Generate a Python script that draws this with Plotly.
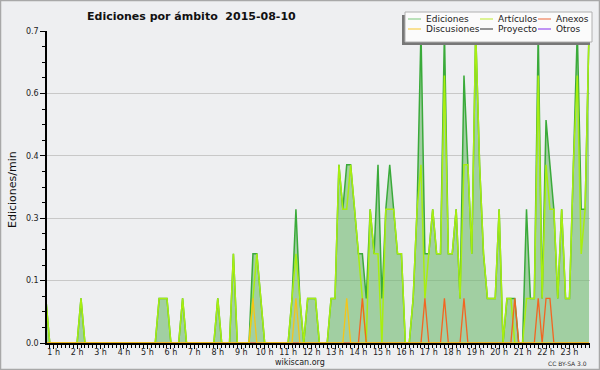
import plotly.graph_objects as go

# 10-minute bin index of the day (bin n covers n*10 min)
bins = list(range(4, 144))

# values in edits/min, grouped by hour (first row: bins 4-5)
ediciones = [
    0.1, 0,
    0, 0, 0, 0, 0, 0,
    0, 0.1, 0, 0, 0, 0,
    0, 0, 0, 0, 0, 0,
    0, 0, 0, 0, 0, 0,
    0, 0, 0, 0.1, 0.1, 0.1,
    0, 0, 0, 0.1, 0, 0,
    0, 0, 0, 0, 0, 0,
    0.1, 0, 0, 0, 0.2, 0,
    0, 0, 0, 0.2, 0.2, 0.1,
    0, 0, 0, 0, 0, 0,
    0, 0.1, 0.3, 0.1, 0, 0.1,
    0.1, 0.1, 0, 0, 0, 0.1,
    0.1, 0.4, 0.3, 0.4, 0.4, 0.3,
    0.2, 0.2, 0.1, 0.3, 0.2, 0.4,
    0.1, 0.3, 0.4, 0.3, 0.2, 0.2,
    0, 0, 0.1, 0.3, 0.7, 0.2,
    0.2, 0.3, 0.2, 0.2, 0.7, 0.2,
    0.2, 0.3, 0.1, 0.6, 0.4, 0.2,
    0.7, 0.4, 0.2, 0.1, 0.1, 0.1,
    0.3, 0, 0.1, 0.1, 0.1, 0,
    0, 0.3, 0.1, 0.1, 0.7, 0.1,
    0.5, 0.4, 0.3, 0.1, 0.3, 0.1,
    0.1, 0.4, 0.7, 0.3, 0.3, 0.7,
]

articulos = [
    0.1, 0,
    0, 0, 0, 0, 0, 0,
    0, 0.1, 0, 0, 0, 0,
    0, 0, 0, 0, 0, 0,
    0, 0, 0, 0, 0, 0,
    0, 0, 0, 0.1, 0.1, 0.1,
    0, 0, 0, 0.1, 0, 0,
    0, 0, 0, 0, 0, 0,
    0.1, 0, 0, 0, 0.2, 0,
    0, 0, 0, 0.1, 0.2, 0.1,
    0, 0, 0, 0, 0, 0,
    0, 0.1, 0.2, 0.1, 0, 0.1,
    0.1, 0.1, 0, 0, 0, 0.1,
    0.1, 0.4, 0.3, 0.3, 0.4, 0.3,
    0.2, 0.1, 0, 0.3, 0.2, 0.2,
    0, 0.3, 0.3, 0.3, 0.2, 0.2,
    0, 0, 0.1, 0.3, 0.4, 0.1,
    0.2, 0.3, 0.2, 0.2, 0.6, 0.2,
    0.2, 0.3, 0.1, 0.4, 0.4, 0.2,
    0.7, 0.4, 0.2, 0.1, 0.1, 0.1,
    0.3, 0, 0.1, 0.1, 0, 0,
    0, 0.1, 0.1, 0.1, 0.6, 0.1,
    0.4, 0.3, 0.3, 0.1, 0.3, 0.1,
    0.1, 0.4, 0.6, 0.2, 0.3, 0.7,
]

anexos = [
    0, 0,
    0, 0, 0, 0, 0, 0,
    0, 0, 0, 0, 0, 0,
    0, 0, 0, 0, 0, 0,
    0, 0, 0, 0, 0, 0,
    0, 0, 0, 0, 0, 0,
    0, 0, 0, 0, 0, 0,
    0, 0, 0, 0, 0, 0,
    0, 0, 0, 0, 0, 0,
    0, 0, 0, 0, 0, 0,
    0, 0, 0, 0, 0, 0,
    0, 0, 0, 0, 0, 0,
    0, 0, 0, 0, 0, 0,
    0, 0, 0, 0, 0, 0,
    0, 0.1, 0, 0, 0, 0,
    0, 0, 0, 0, 0, 0,
    0, 0, 0, 0, 0, 0.1,
    0, 0, 0, 0, 0.1, 0,
    0, 0, 0, 0.1, 0, 0,
    0, 0, 0, 0, 0, 0,
    0, 0, 0, 0, 0.1, 0,
    0, 0, 0, 0, 0.1, 0,
    0.1, 0.1, 0, 0, 0, 0,
    0, 0, 0, 0, 0, 0,
]

discusiones = [
    0, 0,
    0, 0, 0, 0, 0, 0,
    0, 0, 0, 0, 0, 0,
    0, 0, 0, 0, 0, 0,
    0, 0, 0, 0, 0, 0,
    0, 0, 0, 0, 0, 0,
    0, 0, 0, 0, 0, 0,
    0, 0, 0, 0, 0, 0,
    0, 0, 0, 0, 0, 0,
    0, 0, 0, 0.1, 0, 0,
    0, 0, 0, 0, 0, 0,
    0, 0, 0.1, 0, 0, 0,
    0, 0, 0, 0, 0, 0,
    0, 0, 0, 0.1, 0, 0,
    0, 0, 0, 0, 0, 0,
    0, 0, 0, 0, 0, 0,
    0, 0, 0, 0, 0, 0,
    0, 0, 0, 0, 0, 0,
    0, 0, 0, 0, 0, 0,
    0, 0, 0, 0, 0, 0,
    0, 0, 0, 0, 0, 0,
    0, 0, 0, 0, 0, 0,
    0, 0, 0, 0, 0, 0,
    0, 0, 0, 0, 0, 0,
]

hour_ticks = list(range(1, 24))
hour_labels = [f"{h} h" for h in hour_ticks]
y_ticks = [0, 0.14, 0.28, 0.42, 0.56, 0.7]
y_labels = ["0.0", "0.1", "0.3", "0.4", "0.6", "0.7"]

legend_names = ["Ediciones", "Artículos", "Anexos", "Discusiones", "Proyecto", "Otros"]
legend_colors = ["#8fd08f", "#c8ee50", "#f0805a", "#f8d050", "#505050", "#9a50f0"]

hours = [b / 6 for b in bins]

BG = "#eeeff1"
FONT = "DejaVu Sans"

fig = go.Figure()
fig.add_trace(go.Scatter(x=hours, y=ediciones, mode="lines", fill="tozeroy",
                         fillcolor="rgba(110,185,110,0.6)",
                         line=dict(color="#3aaa3a", width=1.5), showlegend=False))
fig.add_trace(go.Scatter(x=hours, y=articulos, mode="lines",
                         line=dict(color="#a8ee10", width=1.5), showlegend=False))
fig.add_trace(go.Scatter(x=hours, y=anexos, mode="lines",
                         line=dict(color="#f26522", width=1.3), showlegend=False))
fig.add_trace(go.Scatter(x=hours, y=discusiones, mode="lines",
                         line=dict(color="#f5c518", width=1.3), showlegend=False))

# plot area in pixels
L, R, T, B = 47, 590, 31, 343
W, H = 600, 370


def px(x):
    return (x - L) / (R - L)


def py(y):
    return (B - y) / (B - T)


shapes = []
annotations = []
# outer frame
shapes.append(dict(type="rect", xref="paper", yref="paper",
                   x0=px(0.5), x1=px(599.5), y0=py(369.5), y1=py(0.5),
                   line=dict(color="#a8a8a8", width=1.5), layer="above"))
# legend box with shadow
shapes.append(dict(type="rect", xref="paper", yref="paper",
                   x0=px(402), x1=px(590), y0=py(45), y1=py(15),
                   line=dict(width=0), fillcolor="#777777", layer="above"))
shapes.append(dict(type="rect", xref="paper", yref="paper",
                   x0=px(405), x1=px(592), y0=py(42), y1=py(12),
                   line=dict(color="#b0b0b0", width=1), fillcolor="#fbfbfb", layer="above"))
col_x = [408, 480, 538]
row_y = [19, 29]
for i, (name, color) in enumerate(zip(legend_names, legend_colors)):
    r, c = divmod(i, 3)
    xs, ys = col_x[c], row_y[r]
    shapes.append(dict(type="line", xref="paper", yref="paper",
                       x0=px(xs), x1=px(xs + 13), y0=py(ys), y1=py(ys),
                       line=dict(color=color, width=1.2), layer="above"))
    annotations.append(dict(text=name, xref="paper", yref="paper", x=px(xs + 16), y=py(ys),
                            xanchor="left", yanchor="middle", showarrow=False,
                            font=dict(family=FONT, size=9, color="#222")))

annotations.append(dict(text="<b>Ediciones por ámbito  2015-08-10</b>", xref="paper", yref="paper",
                        x=px(85), y=py(17), xanchor="left", yanchor="middle", showarrow=False,
                        font=dict(family=FONT, size=11, color="#111")))
annotations.append(dict(text="Ediciones/min", xref="paper", yref="paper",
                        x=px(12), y=py(190), xanchor="center", yanchor="middle", showarrow=False,
                        textangle=-90, font=dict(family=FONT, size=11, color="#111")))
annotations.append(dict(text="wikiscan.org", xref="paper", yref="paper",
                        x=px(300), y=py(362), xanchor="center", yanchor="middle", showarrow=False,
                        font=dict(family=FONT, size=8, color="#222")))
annotations.append(dict(text="CC BY-SA 3.0", xref="paper", yref="paper",
                        x=px(589), y=py(363), xanchor="right", yanchor="middle", showarrow=False,
                        font=dict(family=FONT, size=6, color="#333")))

fig.update_layout(
    width=W, height=H,
    margin=dict(l=L, r=W - R, t=T, b=H - B, pad=0),
    paper_bgcolor=BG, plot_bgcolor=BG,
    showlegend=False,
    shapes=shapes, annotations=annotations,
    xaxis=dict(range=[4.3 / 6, 143.25 / 6], tickmode="array", tickvals=hour_ticks,
               ticktext=hour_labels, ticks="outside", ticklen=4, tickcolor="black",
               ticklabelstandoff=-4,
               showline=True, linecolor="black", linewidth=2, showgrid=False, zeroline=False,
               tickfont=dict(family=FONT, size=8, color="#222"),
               minor=dict(dtick=1 / 6, tick0=0, ticks="outside", ticklen=3, tickcolor="black")),
    yaxis=dict(range=[0, 0.7], tickmode="array", tickvals=y_ticks, ticktext=y_labels,
               ticks="outside", ticklen=5, tickcolor="black",
               showline=True, linecolor="black", linewidth=1.5,
               showgrid=True, gridcolor="#c8c8c8", gridwidth=1, zeroline=False,
               tickfont=dict(family=FONT, size=8, color="#222"),
               minor=dict(dtick=0.035, tick0=0, ticks="outside", ticklen=3, tickcolor="black",
                          showgrid=False)),
)

fig.write_html("out.html", config={"displayModeBar": False},
               post_script="document.body.style.margin='0';document.body.style.overflow='hidden';")
